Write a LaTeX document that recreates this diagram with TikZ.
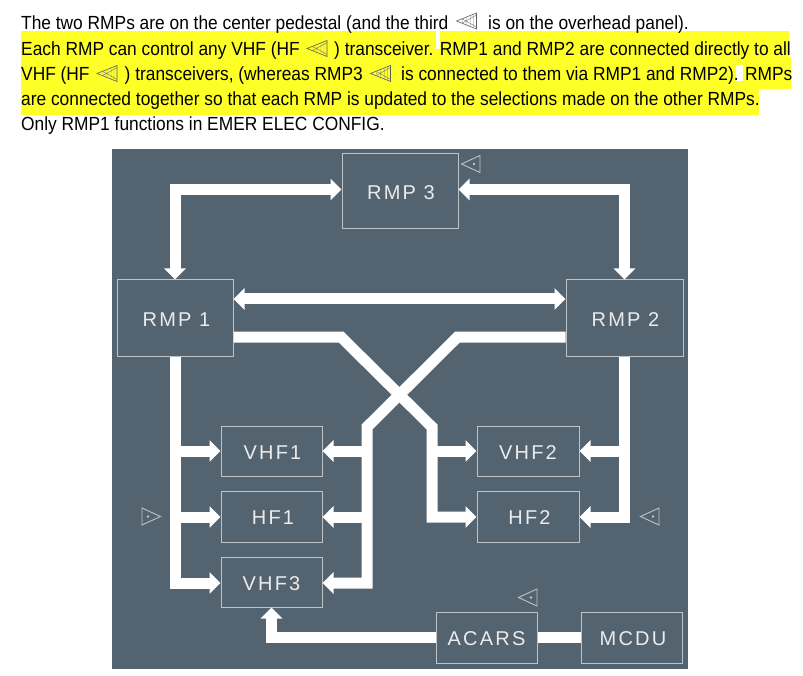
\documentclass[tikz,border=0pt]{standalone}
\usepackage{fontspec}
\setmainfont{Liberation Sans}
\newfontfamily\boxfont[LetterSpace=11]{Liberation Sans}
\newfontfamily\capfont[FakeStretch=0.913]{Liberation Sans}
\usetikzlibrary{arrows.meta}
\definecolor{panel}{RGB}{84,99,112}
\definecolor{edgegrey}{RGB}{190,195,198}
\definecolor{hilite}{RGB}{255,255,40}
\tikzset{
  unit/.style={draw=edgegrey,line width=1pt,fill=panel,inner sep=0pt,text=white!92!black,
    text height=16.3pt,text depth=0pt,font=\boxfont\fontsize{20}{24}\selectfont},
  wire/.style={draw=white,line width=11pt,line join=miter,line cap=butt},
  bigtip/.style={>={Triangle[width=21pt,length=11pt]}},
  caption/.style={anchor=base west,inner sep=0pt,text=black,font=\capfont\fontsize{19}{22}\selectfont},
  effect/.pic={\draw[edgegrey,line width=.9pt,line join=miter] (-9.5,0)--(9,-8.5)--(9,8.5)--cycle; \fill[edgegrey] (3,0) circle (1.3);},
  texteffect/.pic={\draw[black!65,line width=.6pt,line join=miter] (-10,0)--(10,-8)--(10,8)--cycle; \draw[black!50,line width=.45pt] (0,-4)--(0,4) (4,-5.5)--(4,5.5) (7,-6.5)--(7,6.5) (-4,-2.4)--(-4,2.4) (-4,-2)--(10,6) (-4,2)--(10,-6);}
}
\begin{document}
\begin{tikzpicture}[x=1pt,y=-1pt,bigtip]
\useasboundingbox (0,0) rectangle (803,676);
\fill[white] (0,0) rectangle (803,676);
% highlight
\fill[hilite] (21,31) rectangle (789,57);
\fill[hilite] (21,57) rectangle (791,89);
\fill[hilite] (21,89) rectangle (759,115);
\fill[white] (436,31) rectangle (439.5,49);
\fill[white] (736,65) rectangle (743,81);
% captions
\node[caption] (c1a) at (21,30) {The two RMPs are on the center pedestal (and the third};
\node[caption] (c1b) at (488,30) {is on the overhead panel).};
\node[caption] (c2a) at (21,55.5) {Each RMP can control any VHF (HF};
\node[caption] (c2b) at (334,55.5) {) transceiver. RMP1 and RMP2 are connected directly to all};
\node[caption] (c3a) at (21,81) {VHF (HF};
\node[caption] (c3b) at (124.5,81) {) transceivers, (whereas RMP3};
\node[caption] (c3c) at (401,81) {is connected to them via RMP1 and RMP2). RMPs};
\node[caption] (c4) at (21,106) {are connected together so that each RMP is updated to the selections made on the other RMPs.};
\node[caption] (c5) at (21,131) {Only RMP1 functions in EMER ELEC CONFIG.};
\pic at (466.5,21) {texteffect};
\pic at (317,48.5) {texteffect};
\pic at (107,73.5) {texteffect};
\pic at (380.5,73.5) {texteffect};
% panel
\fill[panel] (112,149) rectangle (688,669);
% units
\node[unit,minimum width=116pt,minimum height=75pt] (rmp3) at (400,191.5) {\hspace{2pt}RMP 3};
\node[unit,minimum width=116pt,minimum height=76pt] (rmp1) at (175,318) {\hspace{3pt}RMP 1};
\node[unit,minimum width=117pt,minimum height=76pt] (rmp2) at (624.5,318) {\hspace{2pt}RMP 2};
\node[unit,minimum width=101pt,minimum height=50pt] (vhf1) at (271.5,451) {\hspace{2pt}VHF1};
\node[unit,minimum width=101pt,minimum height=51pt] (hf1) at (271.5,516.5) {\hspace{3pt}HF1};
\node[unit,minimum width=101pt,minimum height=50pt] (vhf3) at (271.5,582) {VHF3};
\node[unit,minimum width=102pt,minimum height=50pt] (vhf2) at (528,451) {VHF2};
\node[unit,minimum width=102pt,minimum height=51pt] (hf2) at (528,516.5) {\hspace{3pt}HF2};
\node[unit,minimum width=101pt,minimum height=51pt] (acars) at (486.5,637.5) {ACARS};
\node[unit,minimum width=101pt,minimum height=51pt] (mcdu) at (631.5,637.5) {\hspace{3pt}MCDU};
% routing levels
\coordinate (top) at (0,189.5);
\coordinate (mid) at (0,299);
\coordinate (x) at (0,337);
\coordinate (lv) at (0,451);
\coordinate (lh) at (0,517);
\coordinate (l3) at (0,583);
\coordinate (ac) at (0,637);
\coordinate (b1) at (341,337);
\coordinate (b2) at (432,427);
\coordinate (b3) at (457.5,337);
\coordinate (b4) at (367,427);
% connectors
\draw[wire,<->] (rmp1.north) |- (rmp3.west |- top);
\draw[wire,<->] (rmp2.north) |- (rmp3.east |- top);
\draw[wire,<->] (rmp1.east |- mid) -- (rmp2.west |- mid);
\draw[wire,->] (rmp2.west |- x) -- (b3) -- (b4) -- (b4 |- l3) -- (vhf3.east |- l3);
\draw[wire,->] (rmp1.east |- x) -- (b1) -- (b2) -- (b2 |- lh) -- (hf2.west |- lh);
\draw[wire,->] (b2 |- lv) -- (vhf2.west |- lv);
\draw[wire,->] (b4 |- lv) -- (vhf1.east |- lv);
\draw[wire,->] (b4 |- lh) -- (hf1.east |- lh);
\draw[wire,->] (rmp1.south) -- (rmp1.south |- l3) -- (vhf3.west |- l3);
\draw[wire,->] (rmp1.south |- lv) -- (vhf1.west |- lv);
\draw[wire,->] (rmp1.south |- lh) -- (hf1.west |- lh);
\draw[wire,->] (rmp2.south) -- (rmp2.south |- lh) -- (hf2.east |- lh);
\draw[wire,->] (rmp2.south |- lv) -- (vhf2.east |- lv);
\draw[wire,->] (acars.west |- ac) -- (vhf3.south |- ac) -- (vhf3.south);
\draw[wire] (acars.east |- ac) -- (mcdu.west |- ac);
% effectivity marks
\pic at (471,164) {effect};
\pic[rotate=180] at (151,516.5) {effect};
\pic at (650,516.5) {effect};
\pic at (528,597.5) {effect};
\end{tikzpicture}
\end{document}
